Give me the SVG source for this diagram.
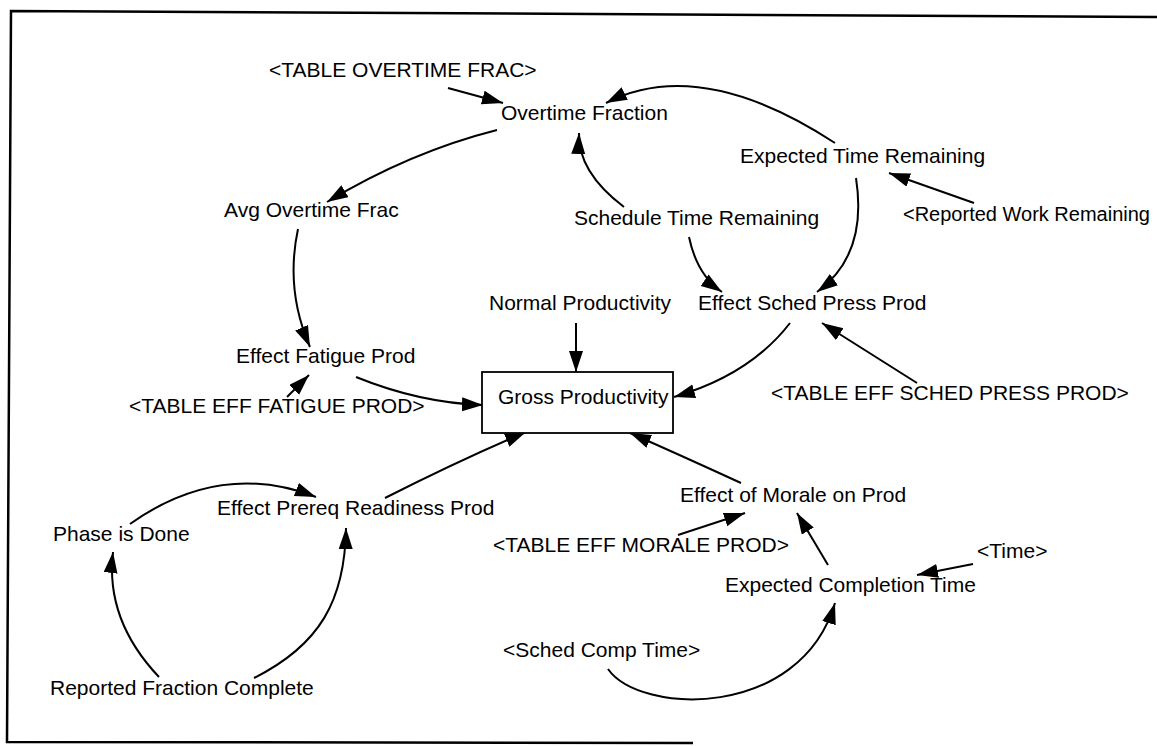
<svg xmlns="http://www.w3.org/2000/svg" width="1157" height="746" viewBox="0 0 1157 746">
<style>
text{font-family:"Liberation Sans",Arial,sans-serif;font-size:21px;fill:#000}
.c{fill:none;stroke:#000;stroke-width:2;marker-end:url(#ah)}
.frame{fill:none;stroke:#000;stroke-width:2.5}
</style>
<defs>
<marker id="ah" markerUnits="userSpaceOnUse" markerWidth="24" markerHeight="16" refX="21" refY="7" orient="auto">
<path d="M0,0 L21,7 L0,14 z" fill="#000"/>
</marker>
</defs>
<rect width="1157" height="746" fill="#fff"/>
<g id="frame">
<polyline class="frame" points="1157,17 11,11 7,742 693,743"/>
</g>
<g id="connectors">
<path class="c" d="M448,88 L503,103"/>
<path class="c" d="M497,130 Q410,152 327,202"/>
<path class="c" d="M298,229 Q285,290 310,347"/>
<path class="c" d="M624,207 C595,185 578,160 579,133"/>
<path class="c" d="M835,143 Q700,55 606,103"/>
<path class="c" d="M974,203 L889,173"/>
<path class="c" d="M689,237 Q697,275 722,292"/>
<path class="c" d="M856,178 Q868,255 817,292"/>
<path class="c" d="M576,323 L576,372"/>
<path class="c" d="M790,323 Q750,375 674,397"/>
<path class="c" d="M917,383 L822,323"/>
<path class="c" d="M356,377 Q420,403 483,405"/>
<path class="c" d="M287,397 L309,375"/>
<path class="c" d="M385,498 Q460,460 526,432"/>
<path class="c" d="M130,524 Q220,460 316,497"/>
<path class="c" d="M159,677 Q105,620 113,552"/>
<path class="c" d="M254,678 C320,645 345,600 346,528"/>
<path class="c" d="M741,483 Q680,455 630,433"/>
<path class="c" d="M678,535 L745,513"/>
<path class="c" d="M828,565 L797,513"/>
<path class="c" d="M973,564 L917,575"/>
<path class="c" d="M608,669 C640,715 800,720 835,603"/>
</g>
<g id="table-overtime-frac"><text x="269" y="77">&lt;TABLE OVERTIME FRAC&gt;</text></g>
<g id="overtime-fraction"><text x="501" y="120">Overtime Fraction</text></g>
<g id="expected-time-remaining"><text x="740" y="163">Expected Time Remaining</text></g>
<g id="reported-work-remaining"><text x="903" y="221" style="font-size:20px">&lt;Reported Work Remaining</text></g>
<g id="avg-overtime-frac"><text x="224" y="217">Avg Overtime Frac</text></g>
<g id="schedule-time-remaining"><text x="574" y="225">Schedule Time Remaining</text></g>
<g id="normal-productivity"><text x="489" y="310">Normal Productivity</text></g>
<g id="effect-sched-press-prod"><text x="698" y="310">Effect Sched Press Prod</text></g>
<g id="effect-fatigue-prod"><text x="236" y="363">Effect Fatigue Prod</text></g>
<g id="gross-productivity"><rect x="482" y="372" width="191" height="61" fill="#fff" stroke="#000" stroke-width="1.8"/><text x="498" y="404">Gross Productivity</text></g>
<g id="table-eff-sched-press-prod"><text x="771" y="400">&lt;TABLE EFF SCHED PRESS PROD&gt;</text></g>
<g id="table-eff-fatigue-prod"><text x="129" y="413">&lt;TABLE EFF FATIGUE PROD&gt;</text></g>
<g id="effect-of-morale-on-prod"><text x="680" y="502">Effect of Morale on Prod</text></g>
<g id="effect-prereq-readiness-prod"><text x="217" y="515">Effect Prereq Readiness Prod</text></g>
<g id="phase-is-done"><text x="53" y="541">Phase is Done</text></g>
<g id="table-eff-morale-prod"><text x="493" y="552">&lt;TABLE EFF MORALE PROD&gt;</text></g>
<g id="time"><text x="977" y="558">&lt;Time&gt;</text></g>
<g id="expected-completion-time"><text x="725" y="592">Expected Completion Time</text></g>
<g id="sched-comp-time"><text x="503" y="657">&lt;Sched Comp Time&gt;</text></g>
<g id="reported-fraction-complete"><text x="50" y="695">Reported Fraction Complete</text></g>
</svg>
